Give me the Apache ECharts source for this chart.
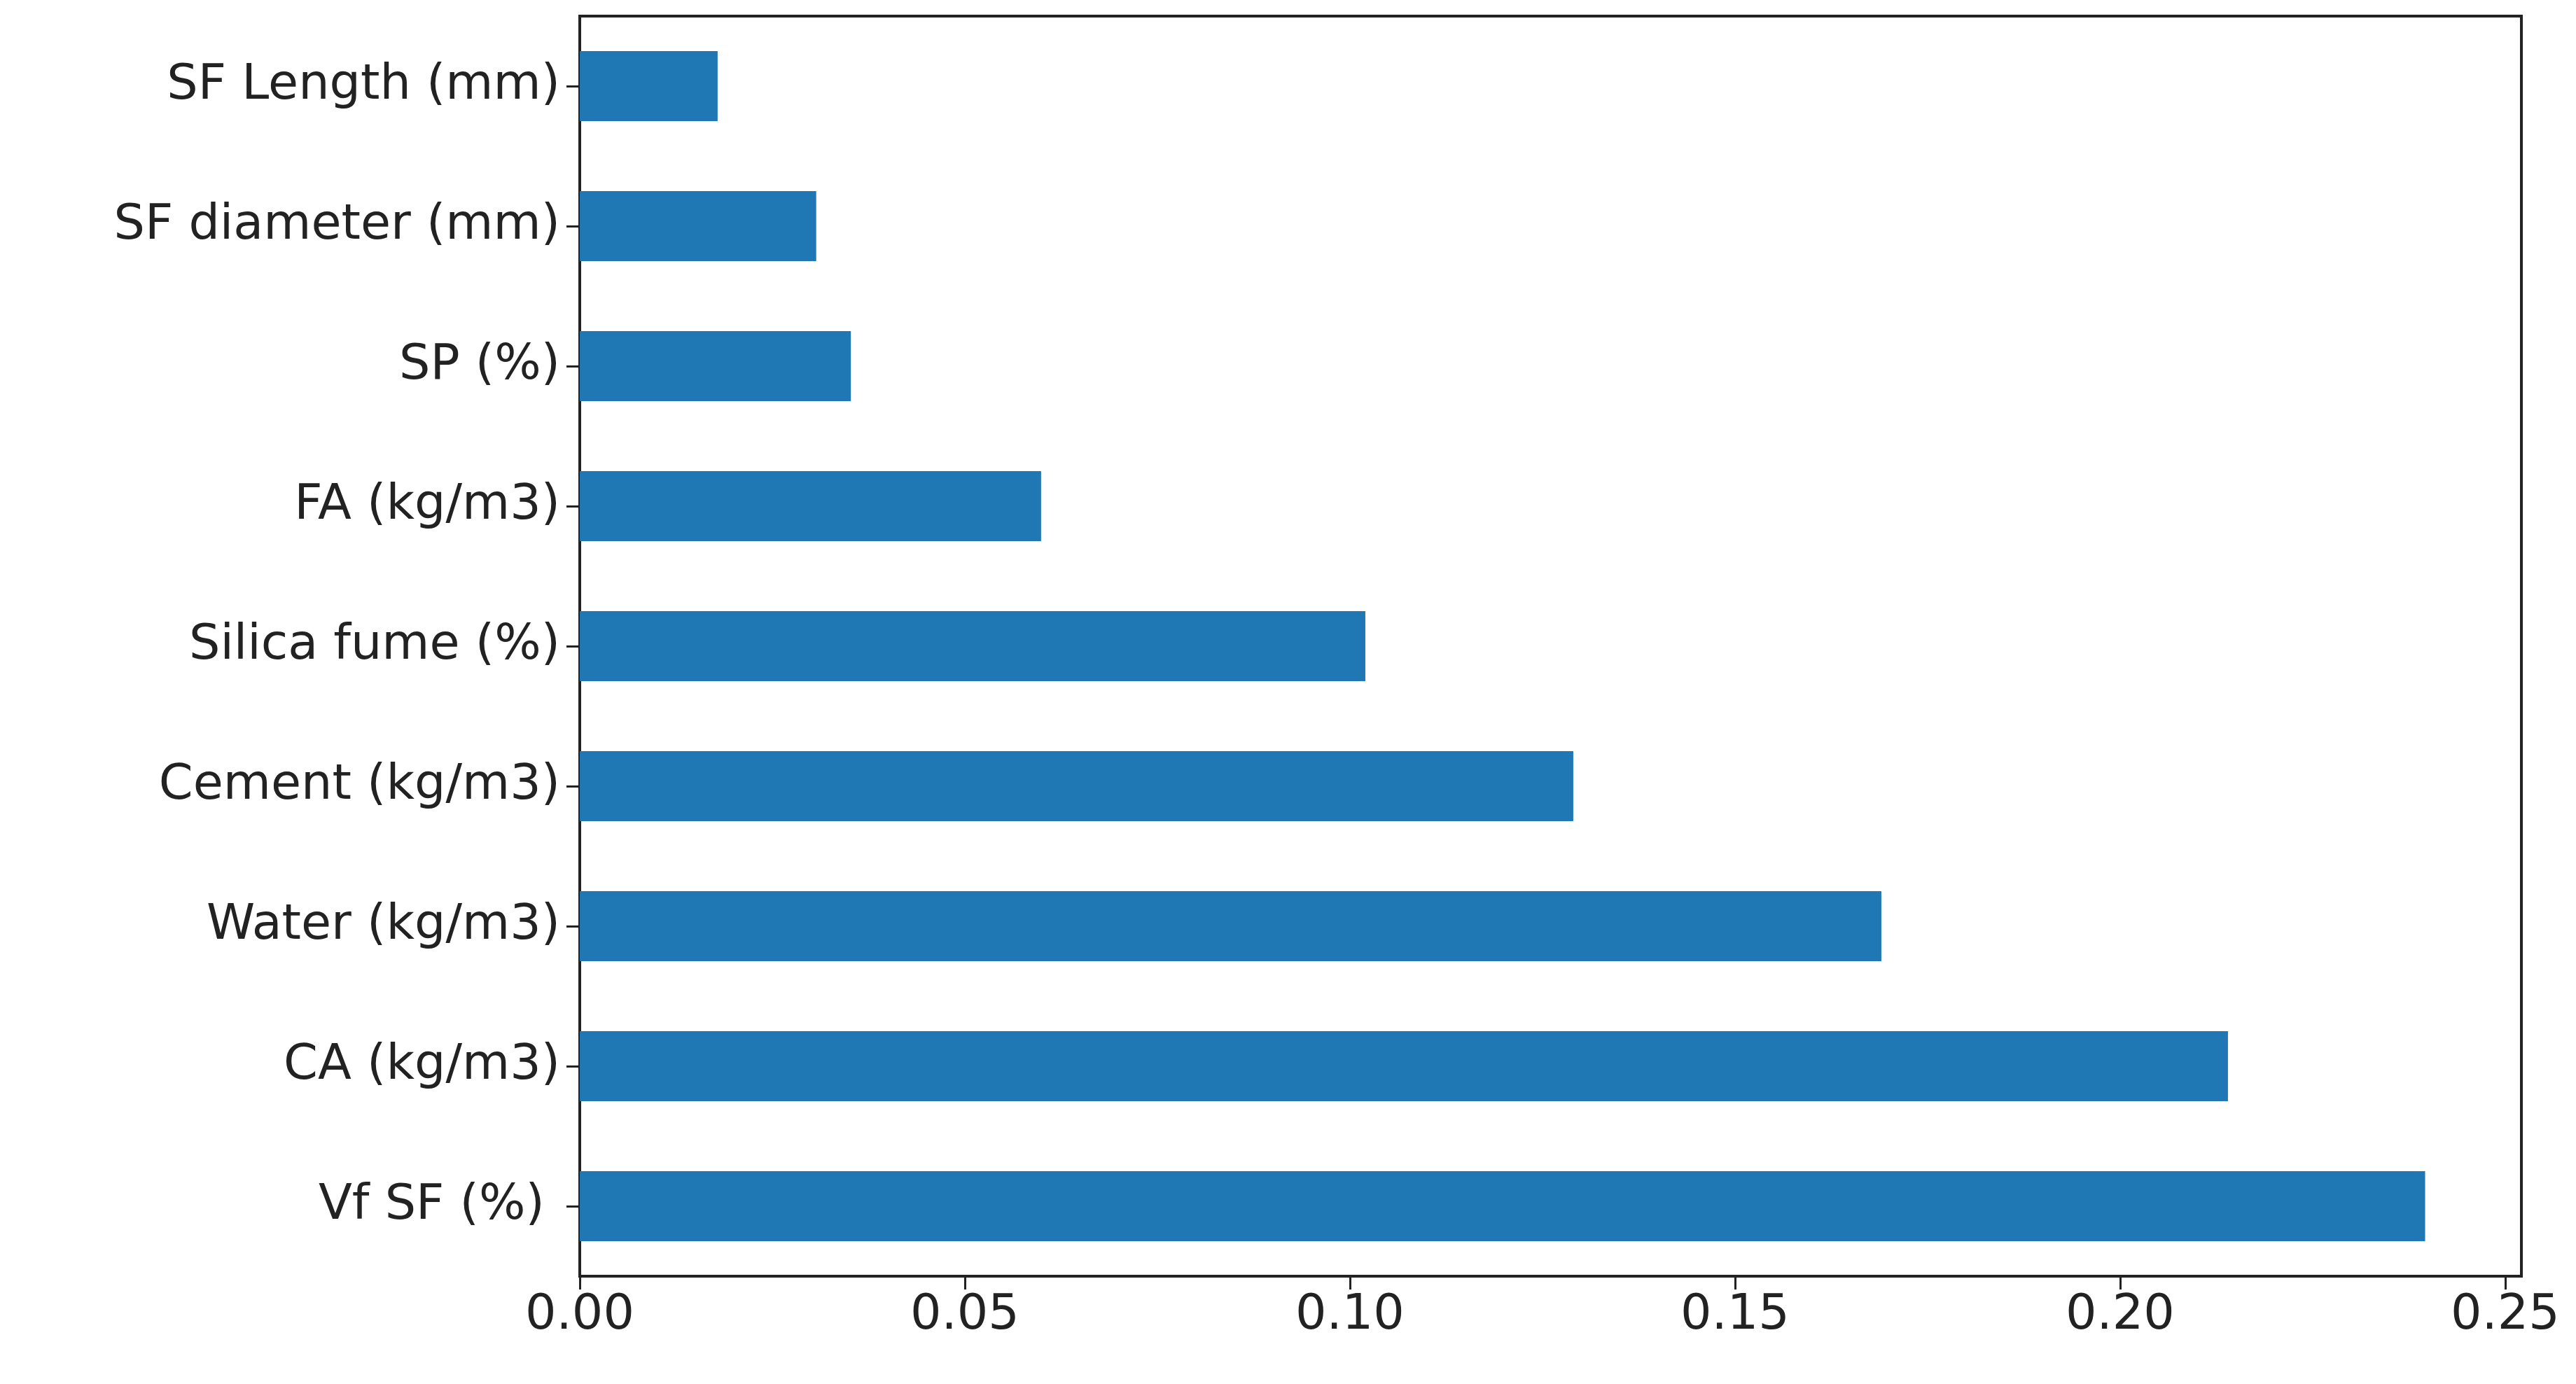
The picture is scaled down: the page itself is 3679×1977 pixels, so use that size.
<!DOCTYPE html>
<html>
<head>
<meta charset="utf-8">
<script src="https://cdn.jsdelivr.net/npm/echarts@6/dist/echarts.min.js"></script>
<style>html,body{margin:0;padding:0;background:#fff}#c{width:3679px;height:1977px}</style>
</head>
<body>
<div id="c"></div>
<script>
var features = ['SF Length (mm)', 'SF diameter (mm)', 'SP (%)', 'FA (kg/m3)', 'Silica fume (%)',
    'Cement (kg/m3)', 'Water (kg/m3)', 'CA (kg/m3)', 'Vf SF (%) '];
var importance = [0.0179, 0.0307, 0.0352, 0.0599, 0.1020, 0.1290, 0.1690, 0.2140, 0.2396];
var xTicks = [0, 0.05, 0.10, 0.15, 0.20, 0.25];

var myChart = echarts.init(document.getElementById('c'));
var font = 'DejaVu Sans';
myChart.setOption({
    animation: false,
    grid: {
        left: 828, top: 23, width: 2773, height: 1800,
        show: true, borderColor: '#222', borderWidth: 4, backgroundColor: 'transparent'
    },
    xAxis: {
        type: 'value', min: 0, max: 0.2521, interval: 0.05,
        splitLine: { show: false },
        axisLine: { show: true, lineStyle: { color: '#222', width: 4 } },
        axisTick: { show: true, length: 19, lineStyle: { color: '#222', width: 3 } },
        axisLabel: {
            showMaxLabel: false, margin: 22, fontFamily: font, fontSize: 70, color: '#222',
            formatter: function (v) { return v.toFixed(2); }
        }
    },
    yAxis: {
        type: 'category', data: features, inverse: true,
        axisLine: { show: true, lineStyle: { color: '#222', width: 4 } },
        axisTick: { show: true, alignWithLabel: true, length: 19, lineStyle: { color: '#222', width: 3 } },
        axisLabel: { margin: 28, fontFamily: font, fontSize: 70, color: '#222' }
    },
    series: [{
        type: 'bar', data: importance, barWidth: '50%',
        itemStyle: { color: '#1f77b4' }
    }]
});
</script>
</body>
</html>
